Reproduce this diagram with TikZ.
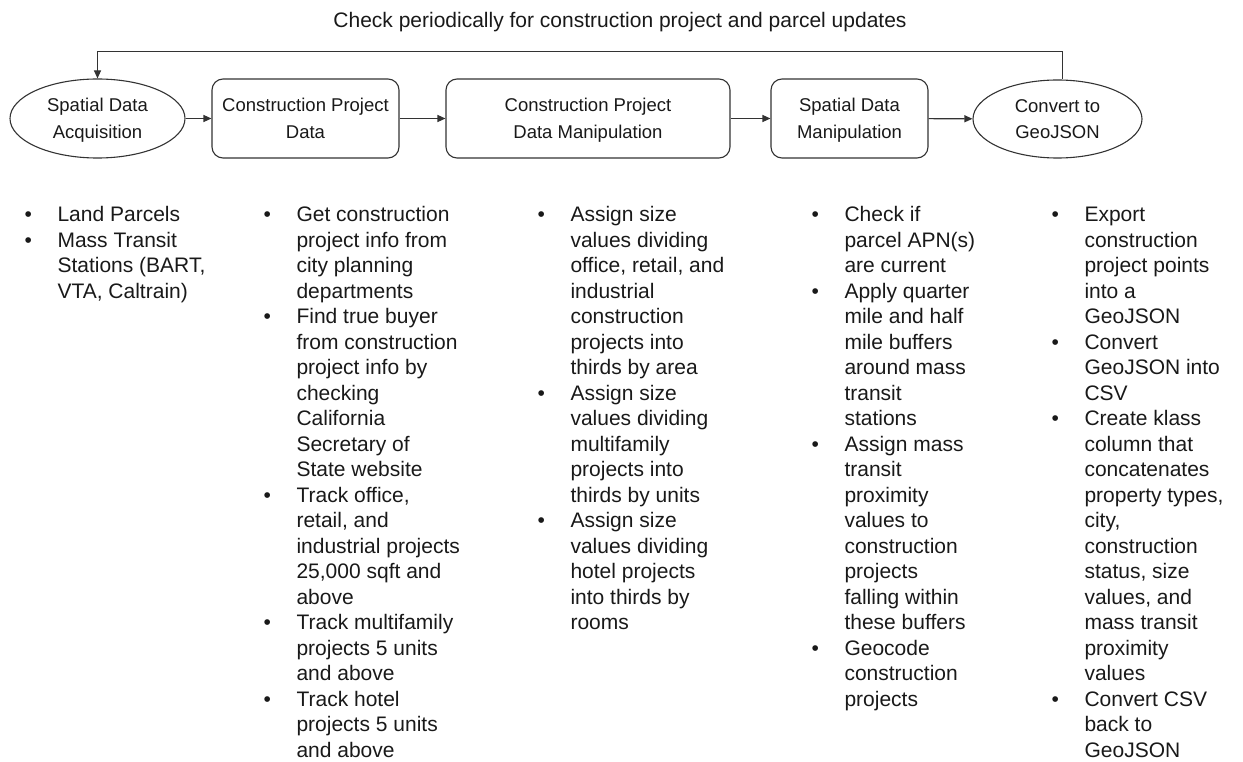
\documentclass[tikz,border=0pt]{standalone}
\usepackage{fontspec}
\setmainfont{Liberation Sans}
\usetikzlibrary{shapes.geometric,arrows.meta}

\newcommand{\bul}{\textbullet}
\newcommand{\listfont}{\fontsize{21}{25.5}\selectfont}

\begin{document}
\begin{tikzpicture}[x=1pt,y=-1pt,->,>={Triangle[length=8pt,width=7pt]},line width=1.1pt,draw=black!80,text=black!90]
\useasboundingbox (0,0) rectangle (1243,762);

\begin{scope}[every node/.style={minimum height=79pt,inner sep=0pt,align=center,font=\fontsize{18.5}{26.5}\selectfont,text height=41pt,text depth=1.4pt}]

\node[draw,ellipse,minimum width=175pt] (p1) at (97.5,118.5) {Spatial Data\\Acquisition};
\node[draw,rounded corners=11pt,minimum width=187pt] (p2) at (305.5,118.5) {Construction Project\\Data};
\node[draw,rounded corners=11pt,minimum width=284pt] (p3) at (588,118.5) {Construction Project\\Data Manipulation};
\node[draw,rounded corners=11pt,minimum width=157pt] (p4) at (849.5,118.5) {Spatial Data\\Manipulation};
\node[draw,ellipse,minimum width=169pt,minimum height=78pt] (p5) at (1057.5,119) {Convert to\\GeoJSON};

\draw [->] (p1) to (p2);
\draw [->] (p2) to (p3);
\draw [->] (p3) to (p4);
\draw [->] (p4) to (p5);

\end{scope}

\node[font=\listfont,anchor=base,inner sep=0pt] (t) at (620,28) {Check periodically for construction project and parcel updates};
\draw [->] ([xshift=5pt]p5.north) -- ++(0,-28) -| (p1.north);

\begin{scope}[every node/.style={anchor=base west,inner sep=0pt,font=\listfont}]

\node (l1) at (24,222) {\begin{tabular}[t]{@{}p{33pt}@{}l@{}}
\bul & Land Parcels\\
\bul & Mass Transit\\
 & Stations (BART,\\
 & VTA, Caltrain)
\end{tabular}};

\node (l2) at (263,222) {\begin{tabular}[t]{@{}p{33pt}@{}l@{}}
\bul & Get construction\\
 & project info from\\
 & city planning\\
 & departments\\
\bul & Find true buyer\\
 & from construction\\
 & project info by\\
 & checking\\
 & California\\
 & Secretary of\\
 & State website\\
\bul & Track office,\\
 & retail, and\\
 & industrial projects\\
 & 25,000 sqft and\\
 & above\\
\bul & Track multifamily\\
 & projects 5 units\\
 & and above\\
\bul & Track hotel\\
 & projects 5 units\\
 & and above
\end{tabular}};

\node (l3) at (537,222) {\begin{tabular}[t]{@{}p{33pt}@{}l@{}}
\bul & Assign size\\
 & values dividing\\
 & office, retail, and\\
 & industrial\\
 & construction\\
 & projects into\\
 & thirds by area\\
\bul & Assign size\\
 & values dividing\\
 & multifamily\\
 & projects into\\
 & thirds by units\\
\bul & Assign size\\
 & values dividing\\
 & hotel projects\\
 & into thirds by\\
 & rooms
\end{tabular}};

\node (l4) at (811,222) {\begin{tabular}[t]{@{}p{33pt}@{}l@{}}
\bul & Check if\\
 & parcel APN(s)\\
 & are current\\
\bul & Apply quarter\\
 & mile and half\\
 & mile buffers\\
 & around mass\\
 & transit\\
 & stations\\
\bul & Assign mass\\
 & transit\\
 & proximity\\
 & values to\\
 & construction\\
 & projects\\
 & falling within\\
 & these buffers\\
\bul & Geocode\\
 & construction\\
 & projects
\end{tabular}};

\node (l5) at (1051,222) {\begin{tabular}[t]{@{}p{33pt}@{}l@{}}
\bul & Export\\
 & construction\\
 & project points\\
 & into a\\
 & GeoJSON\\
\bul & Convert\\
 & GeoJSON into\\
 & CSV\\
\bul & Create klass\\
 & column that\\
 & concatenates\\
 & property types,\\
 & city,\\
 & construction\\
 & status, size\\
 & values, and\\
 & mass transit\\
 & proximity\\
 & values\\
\bul & Convert CSV\\
 & back to\\
 & GeoJSON
\end{tabular}};

\end{scope}
\end{tikzpicture}
\end{document}
